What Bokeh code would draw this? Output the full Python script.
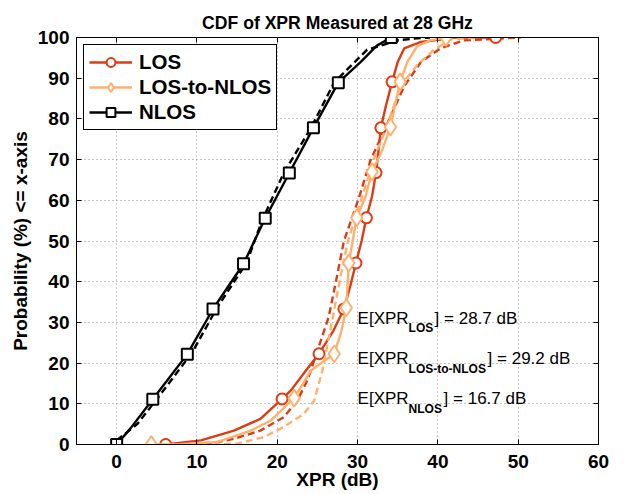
from bokeh.plotting import figure
from bokeh.models import Range1d, FixedTicker, LinearAxis, Legend, LegendItem, Label
from bokeh.embed import file_html
from bokeh.resources import INLINE

# ---- data ----
# LOS measured CDF (solid) and markers
los_x = [6.1, 10.5, 14.6, 17.9, 20.6, 21.7, 23.5, 25.2, 27.0, 28.3, 29.1, 29.8, 30.5, 31.1,
         31.8, 32.3, 32.6, 32.9, 33.5, 34.3, 35.0, 35.8, 37.9, 40.3, 42.0, 47.2]
los_y = [0, 1.0, 3.4, 6.3, 11.2, 13.3, 18.0, 22.3, 28.0, 33.3, 39.0, 44.6, 50.0, 55.7,
         61.0, 66.8, 72.0, 77.8, 83.0, 89.1, 94.0, 97.3, 98.9, 99.5, 100, 100]
los_mx = [6.1, 20.6, 25.2, 28.3, 29.8, 31.1, 32.3, 32.9, 34.3, 47.2]
los_my = [0, 11.2, 22.3, 33.3, 44.6, 55.7, 66.8, 77.8, 89.1, 100]
# LOS fitted CDF (dashed)
los_fx = [11.0, 14.6, 17.9, 20.8, 22.5, 23.8, 25.0, 26.4, 27.4, 28.3, 30.2, 31.6, 33.3,
          35.8, 37.9, 40.3, 43.2, 50.3]
los_fy = [0, 1.4, 3.4, 6.7, 10.8, 16.0, 23.0, 31.3, 41.0, 50.0, 60.8, 69.8, 77.1,
          88.0, 94.0, 97.3, 99.3, 100]

# LOS-to-NLOS measured CDF (solid) and markers
l2n_x = [4.3, 8.0, 12.5, 16.7, 19.2, 22.1, 24.2, 27.1, 28.0, 28.6, 28.9, 29.9, 31.0,
         31.8, 33.0, 34.1, 35.3, 36.2, 37.4, 39.0, 41.0]
l2n_y = [0, 0.1, 0.6, 3.4, 5.9, 11.4, 18.2, 22.3, 28.0, 33.6, 44.6, 55.7, 61.0,
         67.0, 72.0, 78.0, 89.1, 94.0, 97.8, 99.3, 100]
l2n_mx = [4.3, 22.1, 27.1, 28.6, 28.9, 29.9, 31.8, 34.1, 35.3, 41.0]
l2n_my = [0, 11.4, 22.3, 33.6, 44.6, 55.7, 67.0, 78.0, 89.1, 100]
# LOS-to-NLOS fitted CDF (dashed)
l2n_fx = [12.0, 15.0, 18.3, 20.8, 23.3, 24.6, 25.6, 26.6, 27.9, 28.8, 30.6, 32.0, 33.6,
          35.4, 37.4, 39.5, 41.6, 45.0]
l2n_fy = [0, 0.2, 1.8, 4.3, 7.5, 10.8, 18.0, 28.0, 41.5, 50.0, 61.0, 70.0, 78.0,
          88.3, 93.2, 97.0, 99.5, 100]

# NLOS measured CDF (solid) and markers
nlos_x = [0, 1.7, 4.5, 8.8, 12.0, 15.8, 18.5, 21.5, 24.5, 27.6, 30.4, 32.4, 34.2]
nlos_y = [0, 3.9, 11.1, 22.2, 33.3, 44.4, 55.6, 66.7, 77.8, 88.9, 94.0, 98.0, 100]
nlos_mx = [0, 4.5, 8.8, 12.0, 15.8, 18.5, 21.5, 24.5, 27.6, 34.2]
nlos_my = [0, 11.1, 22.2, 33.3, 44.4, 55.6, 66.7, 77.8, 88.9, 100]
# NLOS fitted CDF (dashed)
nlos_fx = [0, 2.6, 5.1, 9.4, 12.5, 16.2, 18.1, 20.8, 24.2, 27.1, 31.2, 35.0, 37.4, 39.0]
nlos_fy = [1.0, 5.1, 11.4, 22.6, 33.6, 44.7, 55.0, 66.7, 77.8, 89.0, 97.0, 99.3, 99.8, 100]

ann_x = [30.0, 30.0, 30.0]
ann_y = [31.0, 21.1, 11.2]
ann_main = ["E[XPR", "E[XPR", "E[XPR"]
ann_sub = ["LOS", "LOS-to-NLOS", "NLOS"]
ann_rest = ["] = 28.7 dB", "] = 29.2 dB", "] = 16.7 dB"]
ann_subw = [25, 78, 34]   # px width of subscripts

title_text = "CDF of XPR Measured at 28 GHz"
x_ticks = [0, 10, 20, 30, 40, 50, 60]
y_ticks = [0, 10, 20, 30, 40, 50, 60, 70, 80, 90, 100]

RED = "#DC3C14"
ORANGE = "#FFB06E"
BLACK = "#000000"
FONT = "Liberation Sans"

p = figure(width=628, height=494, x_range=Range1d(-5, 60), y_range=Range1d(0, 100),
           output_backend="svg", toolbar_location=None,
           min_border_left=76, min_border_right=30, min_border_top=37, min_border_bottom=50)

p.title.text = title_text
p.title.text_font = FONT
p.title.text_font_size = "17.6px"
p.title.text_font_style = "bold"
p.title.text_color = "black"
p.title.align = "center"
p.title.offset = 0
p.title.standoff = 10

p.outline_line_color = "black"
p.outline_line_width = 1
p.outline_line_alpha = 1

for ax in (p.xaxis[0], p.yaxis[0]):
    ax.major_label_text_font = FONT
    ax.major_label_text_font_size = "19px"
    ax.major_label_text_font_style = "bold"
    ax.major_label_text_color = "black"
    ax.axis_label_text_font = FONT
    ax.axis_label_text_font_size = "19px"
    ax.axis_label_text_font_style = "bold"
    ax.axis_label_text_color = "black"
    ax.major_tick_in = 5
    ax.major_tick_out = 0
    ax.minor_tick_in = 0
    ax.minor_tick_out = 0
    ax.axis_line_color = "black"
    ax.major_tick_line_color = "black"

p.xaxis[0].ticker = FixedTicker(ticks=x_ticks)
p.yaxis[0].ticker = FixedTicker(ticks=y_ticks)
p.xaxis[0].axis_label = "XPR (dB)"
p.yaxis[0].axis_label = "Probability (%) <= x-axis"
p.xaxis[0].major_label_standoff = 10
p.xaxis[0].axis_label_standoff = -2
p.yaxis[0].major_label_standoff = 7
p.yaxis[0].axis_label_standoff = 4

for side, tk in (("above", x_ticks), ("right", y_ticks)):
    a = LinearAxis(ticker=FixedTicker(ticks=tk), major_label_text_font_size="1px",
                   major_label_text_color=None,
                   major_tick_in=5, major_tick_out=0, minor_tick_in=0, minor_tick_out=0,
                   axis_line_color="black", major_tick_line_color="black",
                   major_label_standoff=0)
    p.add_layout(a, side)

p.xgrid.ticker = FixedTicker(ticks=x_ticks)
p.ygrid.ticker = FixedTicker(ticks=y_ticks)
for g in (p.xgrid[0], p.ygrid[0]):
    g.grid_line_color = "#8c8c8c"
    g.grid_line_dash = "1 3"
    g.grid_line_width = 1

LW = 2.4
DASH = "7 4"

items = []
series = [
    ("LOS", RED, "circle", 11, los_x, los_y, los_mx, los_my, los_fx, los_fy),
    ("LOS-to-NLOS", ORANGE, "diamond", 17, l2n_x, l2n_y, l2n_mx, l2n_my, l2n_fx, l2n_fy),
    ("NLOS", BLACK, "square", 11, nlos_x, nlos_y, nlos_mx, nlos_my, nlos_fx, nlos_fy),
]
for name, col, mk, sz, x, y, mx, my, fx, fy in series:
    p.line(fx, fy, line_color=col, line_width=LW, line_dash=DASH)
    lr = p.line(x, y, line_color=col, line_width=LW)
    sr = p.scatter(mx, my, marker=mk, size=sz, line_color=col, line_width=2, fill_color="white")
    items.append(LegendItem(label=name, renderers=[lr, sr]))

leg = Legend(items=items, location="top_left", margin=7, padding=5, spacing=1,
             label_text_font=FONT, label_text_font_size="20.5px", label_text_font_style="bold",
             label_text_color="black",
             label_height=22, glyph_height=22, glyph_width=43, label_standoff=7,
             border_line_color="black", border_line_width=1, border_line_alpha=1,
             background_fill_alpha=1)
p.add_layout(leg, "center")

for i in range(len(ann_x)):
    p.add_layout(Label(x=ann_x[i], y=ann_y[i], text=ann_main[i], text_baseline="middle",
                       text_font=FONT, text_font_size="17px", text_color="black"))
    p.add_layout(Label(x=ann_x[i], y=ann_y[i], x_offset=51, y_offset=-10, text=ann_sub[i],
                       text_baseline="middle", text_font=FONT, text_font_size="12px",
                       text_font_style="bold", text_color="black"))
    p.add_layout(Label(x=ann_x[i], y=ann_y[i], x_offset=52 + ann_subw[i], text=ann_rest[i],
                       text_baseline="middle", text_font=FONT, text_font_size="17px",
                       text_color="black"))

open("out.html", "w").write(file_html(p, INLINE))
